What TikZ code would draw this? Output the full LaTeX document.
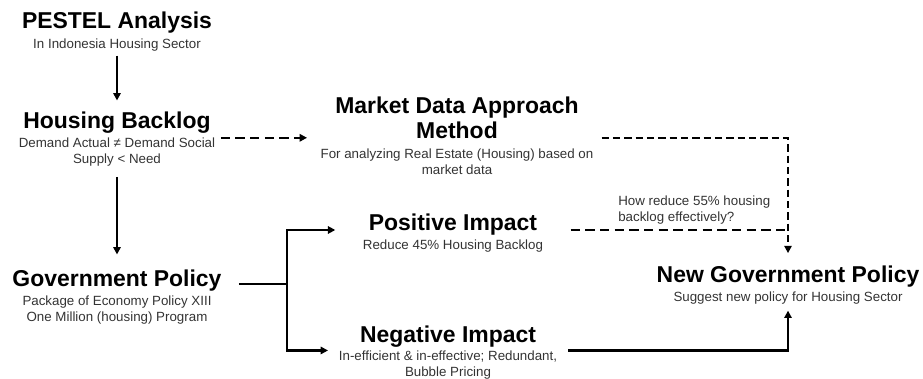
\documentclass[tikz,border=0pt]{standalone}
\usepackage{fontspec}
\setmainfont{Liberation Sans}
\usetikzlibrary{positioning,arrows.meta}
\definecolor{grey1}{RGB}{51,51,51}
\tikzstyle{head} = [inner sep=0pt, align=center, font=\fontsize{17.2}{18.8}\selectfont\bfseries]
\tikzstyle{note} = [inner sep=0pt, align=center, text=grey1, font=\fontsize{10}{12}\selectfont]
\tikzstyle{conn} = [line width=1.6pt]
\tikzstyle{flow} = [conn, -{Triangle[length=5.5pt,width=5.5pt]}]
\tikzstyle{dseg} = [conn, dash pattern=on 7pt off 4pt]
\tikzstyle{dflow} = [dseg, -{Triangle[length=5.5pt,width=5.5pt]}]

\begin{document}
\begin{tikzpicture}[x=0.75pt, y=-0.75pt]
	\useasboundingbox (0,0) rectangle (923,378);
	% Left column
	\node [head, anchor=base] (pestel) at (117,29) {PESTEL Analysis};
	\node [note, below=3.5pt of pestel] (pestelsub) {In Indonesia Housing Sector};
	\node [head, anchor=base] (backlog) at (117,128) {Housing Backlog};
	\node [note, below=3.5pt of backlog] (backlogsub) {Demand Actual ≠ Demand Social\\Supply < Need};
	\node [head, anchor=base] (gov) at (117,286) {Government Policy};
	\node [note, below=3.5pt of gov] (govsub) {Package of Economy Policy XIII\\One Million (housing) Program};
	% Middle and right
	\node [head, anchor=north] (market) at (457,97) {Market Data Approach\\Method};
	\node [note, below=7pt of market] (marketsub) {For analyzing Real Estate (Housing) based on\\market data};
	\node [head, anchor=base] (positive) at (453,230) {Positive Impact};
	\node [note, below=3.5pt of positive] (positivesub) {Reduce 45\% Housing Backlog};
	\node [head, anchor=base] (negative) at (448,342) {Negative Impact};
	\node [note, below=2.5pt of negative] (negativesub) {In-efficient \& in-effective; Redundant,\\Bubble Pricing};
	\node [head, anchor=base] (newgov) at (788,282) {New Government Policy};
	\node [note, below=3.5pt of newgov] (newgovsub) {Suggest new policy for Housing Sector};
	\node [note, align=left, anchor=north west] (question) at (618,196) {How reduce 55\% housing\\backlog effectively?};
	\coordinate (fork) at (287,284);

	\draw [flow, shorten <=3pt, shorten >=8pt] (pestelsub) -- (backlog);
	\draw [flow, shorten <=7.5pt, shorten >=11pt] (backlogsub) -- (gov);
	\draw [dflow] ([xshift=4pt]backlogsub.north east) -- ([xshift=-10pt]marketsub.west |- backlogsub.north east);
	\draw [dflow, dash pattern=on 5.5pt off 3pt, shorten >=9pt] ([xshift=6pt,yshift=1pt]marketsub.east |- market.south) -| (newgov.north);
	\draw [dseg] ([xshift=25pt]positive.base east) -- (positive.base east -| newgov.north);
	\draw [conn] ([xshift=12.75pt]gov.base east |- fork) -- (fork);
	\draw [flow, shorten >=25pt] (fork) |- (positive.base west);
	\draw [flow] (fork) |- ([xshift=-8pt]negativesub.north west);
	\draw [flow] ([xshift=8pt]negativesub.north east) -| ([yshift=-4.5pt]newgovsub.south);
\end{tikzpicture}
\end{document}
